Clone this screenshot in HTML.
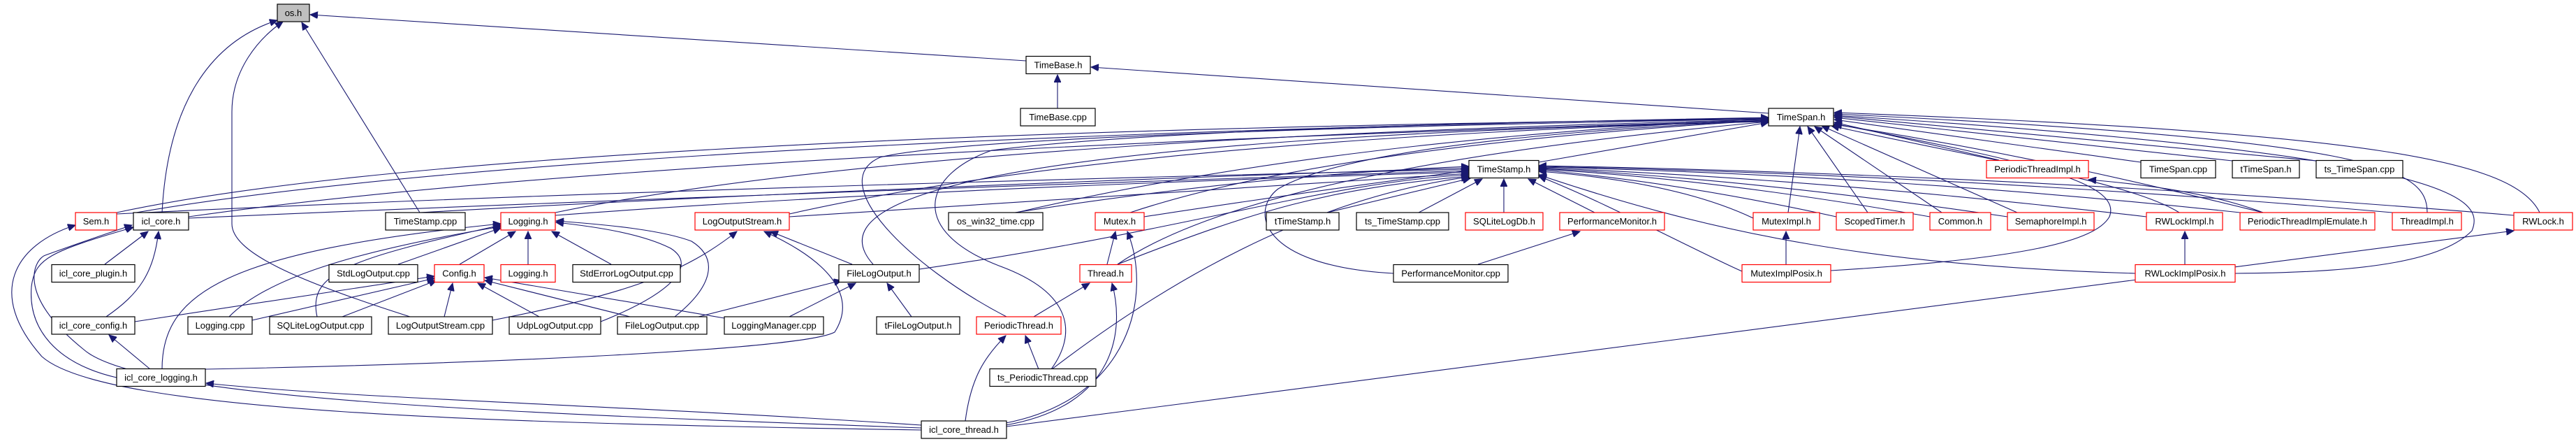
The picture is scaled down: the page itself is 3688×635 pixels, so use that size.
<!DOCTYPE html>
<html><head><meta charset="utf-8"><style>
html,body{margin:0;padding:0;background:#fff;}
svg{display:block}
text{font-family:"Liberation Sans",sans-serif;font-size:13px;fill:#000;text-anchor:middle}
.e{fill:none;stroke:#191970;stroke-width:1.1}
.n{fill:#fff;stroke:#000;stroke-width:1.2}
.r{fill:#fff;stroke:#ff0000;stroke-width:1.2}
</style></head><body>
<svg width="3688" height="635" viewBox="0 0 3688 635" xmlns="http://www.w3.org/2000/svg">
<defs><marker id="a" markerWidth="12" markerHeight="10" refX="11" refY="5" orient="auto" markerUnits="userSpaceOnUse"><path d="M0,0 L11,5 L0,10 z" fill="#191970" stroke="#191970"/></marker></defs>
<g class="e" marker-end="url(#a)">
<!-- os.h -->
<path d="M232,304 C240,150 300,60 397,29"/>
<path d="M587,453 C420,400 332,360 332,320 L332,160 C332,100 370,55 405,31"/>
<path d="M601,304 L432,32"/>
<path d="M1469,87 L444,21"/>
<!-- TimeBase -->
<path d="M1514,155 L1514,107"/>
<path d="M2532,162 L1562,96"/>
<!-- TimeSpan.h -->
<path d="M2203,232 L2532,175"/>
<path d="M167,304 Q700,190 2532,170"/>
<path d="M270,310 Q900,220 2532,172"/>
<path d="M195,304 Q800,200 2532,168"/>
<path d="M795,304 Q1300,200 2532,171"/>
<path d="M1130,306 Q1600,200 2532,173"/>
<path d="M1250,378 C1180,300 1300,200 2532,174"/>
<path d="M1455,304 Q1900,200 2532,170"/>
<path d="M1618,304 Q1900,210 2532,172"/>
<path d="M1600,378 Q1800,240 2532,174"/>
<path d="M1441,453 C1300,380 1180,260 1260,225 Q1400,190 2532,170"/>
<path d="M1505,528 C1540,480 1540,420 1430,380 C1300,330 1320,250 1420,215 Q1700,180 2532,169"/>
<path d="M1995,391 C1800,380 1790,300 1830,270 Q1950,200 2532,172"/>
<path d="M2560,304 L2577,181"/>
<path d="M2674,304 L2588,181"/>
<path d="M2780,304 L2598,181"/>
<path d="M2888,304 L2608,180"/>
<path d="M2862,229 L2626,175"/>
<path d="M3065,232 L2626,171"/>
<path d="M3196,230 L2626,168"/>
<path d="M3316,230 L2626,166"/>
<path d="M3475,304 C3475,240 3400,200 2626,163"/>
<path d="M3636,304 C3600,230 3400,190 2626,161"/>
<path d="M3200,391 C3400,390 3500,370 3539,330 C3560,280 3500,220 2626,165"/>
<path d="M2621,387 C2900,370 3000,345 3020,310 C3040,260 2900,230 2626,177"/>
<path d="M3240,304 C3100,270 2900,220 2626,178"/>
<path d="M3120,304 C3050,260 2850,230 2622,180"/>
<!-- TimeStamp.h -->
<path d="M167,306 Q900,270 2103,242"/>
<path d="M270,312 Q1000,280 2103,244"/>
<path d="M601,304 Q1200,270 2103,240"/>
<path d="M795,308 Q1300,270 2103,246"/>
<path d="M1130,310 Q1600,280 2103,248"/>
<path d="M1316,385 C1700,330 1900,260 2103,250"/>
<path d="M1638,310 Q1900,270 2103,244"/>
<path d="M1600,378 C1800,300 1900,270 2103,252"/>
<path d="M1506,528 C1700,380 1900,280 2103,253"/>
<path d="M1453,304 Q1800,250 2103,238"/>
<path d="M1900,304 L2105,255"/>
<path d="M2031,304 L2122,256"/>
<path d="M2153,304 L2153,256"/>
<path d="M2283,304 L2188,256"/>
<path d="M2510,312 Q2400,260 2203,245"/>
<path d="M2629,310 Q2400,260 2203,243"/>
<path d="M2763,310 Q2450,255 2203,242"/>
<path d="M2874,310 Q2500,255 2203,241"/>
<path d="M3073,310 Q2600,255 2203,240"/>
<path d="M3207,304 Q2700,250 2203,239"/>
<path d="M3425,304 Q2800,250 2203,238"/>
<path d="M3599,308 Q2900,250 2203,237"/>
<path d="M2494,388 C2430,360 2300,290 2203,252"/>
<path d="M3057,391 C2700,380 2470,340 2203,250"/>
<!-- Logging.h -->
<path d="M658,378 L738,331"/>
<path d="M756,378 L756,331"/>
<path d="M875,378 L790,331"/>
<path d="M570,378 Q650,350 717,326"/>
<path d="M328,453 C380,400 500,360 717,324"/>
<path d="M454,453 C440,390 500,370 717,322"/>
<path d="M232,528 C232,420 320,360 717,320"/>
<path d="M860,460 C960,420 1000,380 960,355 C920,335 860,325 796,318"/>
<path d="M966,453 C1020,410 1030,370 990,345 C950,330 880,322 796,316"/>
<!-- Config.h -->
<path d="M193,460 L622,395"/>
<path d="M361,458 L622,398"/>
<path d="M490,453 L625,401"/>
<path d="M636,453 L648,405"/>
<path d="M772,453 L684,405"/>
<path d="M902,453 L694,401"/>
<path d="M1037,455 L694,397"/>
<!-- LogOutputStream.h -->
<path d="M705,458 C900,420 980,390 1055,331"/>
<path d="M1220,378 L1103,331"/>
<path d="M294,528 C700,520 1150,500 1195,475 C1230,420 1180,370 1094,331"/>
<!-- FileLogOutput.h -->
<path d="M1000,453 L1205,401"/>
<path d="M1130,453 L1225,405"/>
<path d="M1305,453 L1270,405"/>
<!-- icl_core.h -->
<path d="M150,378 L212,331"/>
<path d="M152,453 C200,420 220,390 227,331"/>
<path d="M167,540 C80,520 40,470 45,410 C50,370 70,360 191,325"/>
<path d="M1319,612 C700,590 200,570 120,500 C20,420 50,370 65,365 Q120,345 189,322"/>
<path d="M1319,615 C700,605 150,590 60,510 C-20,420 20,350 108,322"/>
<!-- others -->
<path d="M215,528 L156,479"/>
<path d="M1319,608 C900,580 500,570 295,548"/>
<path d="M1585,378 L1597,331"/>
<path d="M1440,605 C1620,570 1650,420 1614,331"/>
<path d="M1480,453 L1560,405"/>
<path d="M1440,608 C1600,580 1610,470 1592,405"/>
<path d="M1487,528 L1468,480"/>
<path d="M1382,602 C1390,540 1410,510 1440,480"/>
<path d="M2557,378 L2557,331"/>
<path d="M3128,378 L3128,331"/>
<path d="M2116,378 L2262,331"/>
<path d="M3240,304 Q3150,270 2990,257"/>
<path d="M1441,610 L3599,330"/>
</g>
<!-- nodes -->
<rect x="397" y="6" width="46" height="25" fill="#bfbfbf" stroke="#000" stroke-width="1.2"/><text x="420" y="23">os.h</text>
<rect class="n" x="1469" y="80.5" width="92" height="25"/><text x="1515" y="97.5">TimeBase.h</text>
<rect class="n" x="1461" y="155" width="107" height="25"/><text x="1514.5" y="172">TimeBase.cpp</text>
<rect class="n" x="2532" y="155" width="93" height="25"/><text x="2578.5" y="172">TimeSpan.h</text>
<rect class="n" x="2103" y="229.5" width="100" height="25"/><text x="2153" y="246.5">TimeStamp.h</text>
<rect class="r" x="2844" y="229.5" width="146" height="25"/><text x="2917" y="246.5">PeriodicThreadImpl.h</text>
<rect class="n" x="3065" y="229.5" width="107" height="25"/><text x="3118.5" y="246.5">TimeSpan.cpp</text>
<rect class="n" x="3196" y="229.5" width="96" height="25"/><text x="3244" y="246.5">tTimeSpan.h</text>
<rect class="n" x="3316" y="229.5" width="124" height="25"/><text x="3378" y="246.5">ts_TimeSpan.cpp</text>
<!-- row 304 -->
<rect class="r" x="108" y="304" width="59" height="25"/><text x="137.5" y="321">Sem.h</text>
<rect class="n" x="191" y="304" width="79" height="25"/><text x="230.5" y="321">icl_core.h</text>
<rect class="n" x="552" y="304" width="114" height="25"/><text x="609" y="321">TimeStamp.cpp</text>
<rect class="r" x="717" y="304" width="78" height="25"/><text x="756" y="321">Logging.h</text>
<rect class="r" x="995" y="304" width="135" height="25"/><text x="1062.5" y="321">LogOutputStream.h</text>
<rect class="n" x="1358" y="304" width="135" height="25"/><text x="1425.5" y="321">os_win32_time.cpp</text>
<rect class="r" x="1568" y="304" width="70" height="25"/><text x="1603" y="321">Mutex.h</text>
<rect class="n" x="1813" y="304" width="104" height="25"/><text x="1865" y="321">tTimeStamp.h</text>
<rect class="n" x="1942" y="304" width="132" height="25"/><text x="2008" y="321">ts_TimeStamp.cpp</text>
<rect class="r" x="2098" y="304" width="111" height="25"/><text x="2153.5" y="321">SQLiteLogDb.h</text>
<rect class="r" x="2233" y="304" width="150" height="25"/><text x="2308" y="321">PerformanceMonitor.h</text>
<rect class="r" x="2510" y="304" width="95" height="25"/><text x="2557.5" y="321">MutexImpl.h</text>
<rect class="r" x="2629" y="304" width="110" height="25"/><text x="2684" y="321">ScopedTimer.h</text>
<rect class="r" x="2763" y="304" width="87" height="25"/><text x="2806.5" y="321">Common.h</text>
<rect class="r" x="2874" y="304" width="124" height="25"/><text x="2936" y="321">SemaphoreImpl.h</text>
<rect class="r" x="3073" y="304" width="109" height="25"/><text x="3127.5" y="321">RWLockImpl.h</text>
<rect class="r" x="3207" y="304" width="193" height="25"/><text x="3303.5" y="321">PeriodicThreadImplEmulate.h</text>
<rect class="r" x="3425" y="304" width="99" height="25"/><text x="3474.5" y="321">ThreadImpl.h</text>
<rect class="r" x="3599" y="304" width="84" height="25"/><text x="3641" y="321">RWLock.h</text>
<!-- row 378 -->
<rect class="n" x="74" y="378.5" width="119" height="25"/><text x="133.5" y="395.5">icl_core_plugin.h</text>
<rect class="n" x="471" y="378.5" width="127" height="25"/><text x="534.5" y="395.5">StdLogOutput.cpp</text>
<rect class="r" x="622" y="378.5" width="71" height="25"/><text x="657.5" y="395.5">Config.h</text>
<rect class="r" x="717" y="378.5" width="78" height="25"/><text x="756" y="395.5">Logging.h</text>
<rect class="n" x="820" y="378.5" width="154" height="25"/><text x="897" y="395.5">StdErrorLogOutput.cpp</text>
<rect class="n" x="1201" y="378.5" width="115" height="25"/><text x="1258.5" y="395.5">FileLogOutput.h</text>
<rect class="r" x="1546" y="378.5" width="74" height="25"/><text x="1583" y="395.5">Thread.h</text>
<rect class="n" x="1995" y="378.5" width="164" height="25"/><text x="2077" y="395.5">PerformanceMonitor.cpp</text>
<rect class="r" x="2494" y="378.5" width="127" height="25"/><text x="2557.5" y="395.5">MutexImplPosix.h</text>
<rect class="r" x="3057" y="378.5" width="143" height="25"/><text x="3128.5" y="395.5">RWLockImplPosix.h</text>
<!-- row 453 -->
<rect class="n" x="74" y="453" width="119" height="25"/><text x="133.5" y="470">icl_core_config.h</text>
<rect class="n" x="269" y="453" width="92" height="25"/><text x="315" y="470">Logging.cpp</text>
<rect class="n" x="386" y="453" width="146" height="25"/><text x="459" y="470">SQLiteLogOutput.cpp</text>
<rect class="n" x="556" y="453" width="149" height="25"/><text x="630.5" y="470">LogOutputStream.cpp</text>
<rect class="n" x="729" y="453" width="131" height="25"/><text x="794.5" y="470">UdpLogOutput.cpp</text>
<rect class="n" x="884" y="453" width="128" height="25"/><text x="948" y="470">FileLogOutput.cpp</text>
<rect class="n" x="1037" y="453" width="142" height="25"/><text x="1108" y="470">LoggingManager.cpp</text>
<rect class="n" x="1255" y="453" width="119" height="25"/><text x="1314.5" y="470">tFileLogOutput.h</text>
<rect class="r" x="1398" y="453" width="121" height="25"/><text x="1458.5" y="470">PeriodicThread.h</text>
<!-- row 527 -->
<rect class="n" x="167" y="527.5" width="127" height="25"/><text x="230.5" y="544.5">icl_core_logging.h</text>
<rect class="n" x="1417" y="527.5" width="152" height="25"/><text x="1493" y="544.5">ts_PeriodicThread.cpp</text>
<!-- row 602 -->
<rect class="n" x="1319" y="602" width="122" height="25"/><text x="1380" y="619">icl_core_thread.h</text>
</svg>
</body></html>
